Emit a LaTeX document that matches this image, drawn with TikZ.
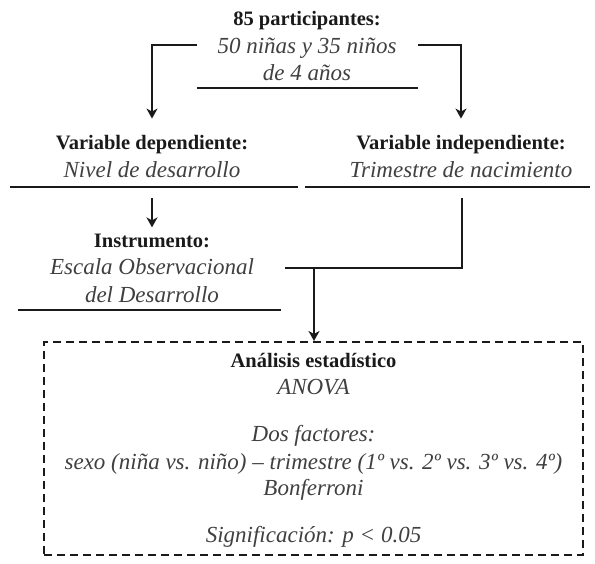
\documentclass[tikz,border=0pt]{standalone}
\usepackage{fontspec}
\setmainfont{Liberation Serif}
\usetikzlibrary{arrows.meta}
\definecolor{ink}{HTML}{1A1A1A}
\definecolor{itink}{HTML}{404040}
\tikzset{
  bt/.style={inner sep=0pt, anchor=base, text=ink, font=\fontsize{20.5}{24}\selectfont\bfseries},
  it/.style={inner sep=0pt, anchor=base, text=itink, font=\fontsize{23}{27}\selectfont\itshape},
  ln/.style={line width=2.5pt, draw=ink},
  arr/.style={line width=2.5pt, draw=ink, -{Stealth[length=10pt,width=11pt,inset=3pt]}},
  dashbox/.style={draw=ink, line width=2pt, dash pattern=on 8pt off 5pt, inner sep=0pt}
}
\begin{document}
\begin{tikzpicture}[x=1pt,y=-1pt]
\useasboundingbox (0,0) rectangle (595,564);
% top block
\node[bt] (p1) at (307,26) {85 participantes:};
\node[it] (p2) at (307,54) {50 niñas y 35 niños};
\node[it] (p3) at (307,81) {de 4 años};
\coordinate (u1a) at (197,88);
\coordinate (u1b) at (418,88);
\draw[ln] (u1a) -- (u1b);
% left / right blocks
\node[bt] (vd) at (152,150) {Variable dependiente:};
\node[it] (nd) at (152,178) {Nivel de desarrollo};
\node[bt] (vi) at (461,150) {Variable independiente:};
\node[it] (tn) at (461,178) {Trimestre de nacimiento};
\coordinate (u2a) at (10,187);
\coordinate (u2b) at (298,187);
\coordinate (u3a) at (305,187);
\coordinate (u3b) at (590,187);
\draw[ln] (u2a) -- (u2b);
\draw[ln] (u3a) -- (u3b);
% instrument block
\node[bt] (in) at (152,248) {Instrumento:};
\node[it] (eo) at (152,275) {Escala Observacional};
\node[it] (dd) at (152,303) {del Desarrollo};
\coordinate (u4a) at (18,310);
\coordinate (u4b) at (281,310);
\draw[ln] (u4a) -- (u4b);
% analysis box
\node[dashbox, minimum width=539pt, minimum height=213pt] (box) at (313.5,448.5) {};
\node[bt] (a1) at (313.5,367) {Análisis estadístico};
\node[it] (a2) at (313.5,394) {ANOVA};
\node[it] (a3) at (313.5,441) {Dos factores:};
\node[it] (a4) at (313.5,469) {sexo (niña vs. niño) – trimestre (1º vs. 2º vs. 3º vs. 4º)};
\node[it] (a5) at (313.5,495) {Bonferroni};
\node[it] (a6) at (313.5,542) {Significación: \textit{p} < 0.05};
% connectors
\coordinate (tl) at (197,45);
\coordinate (tr) at (418,45);
\draw[arr] (tl) -| ([yshift=17pt]vd.north);
\draw[arr] (tr) -| ([yshift=17pt]vi.north);
\coordinate (ls) at (152,198);
\draw[arr] (ls) -- ([yshift=7pt]in.north);
\coordinate (rs) at (462,198);
\coordinate (je) at (285,268);
\draw[ln] (rs) |- (je);
\coordinate (jd) at (314,268);
\draw[arr] (jd) -- (jd |- box.north);
\end{tikzpicture}
\end{document}
